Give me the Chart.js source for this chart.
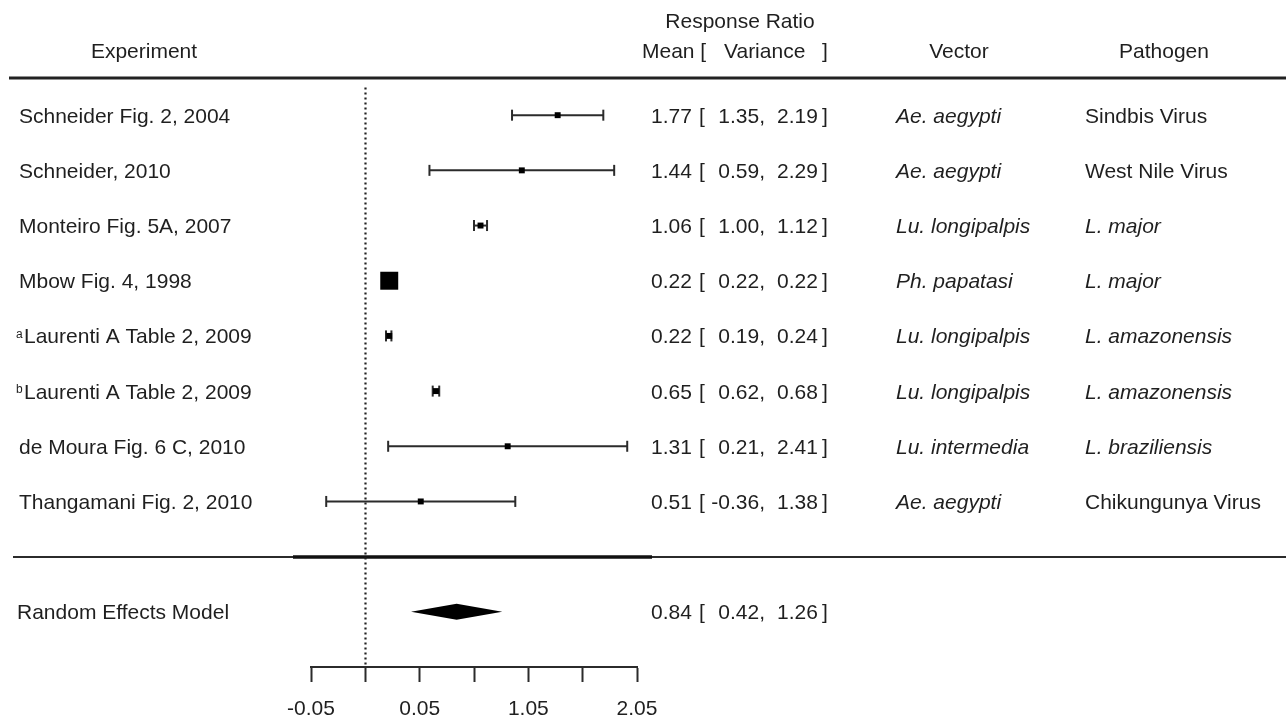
<!DOCTYPE html>
<html>
<head>
<meta charset="utf-8">
<script src="https://cdn.jsdelivr.net/npm/chart.js@4.4.0/dist/chart.umd.min.js"></script>
<style>
html,body{margin:0;padding:0;background:#fff;}
#wrap{width:1286px;height:716px;position:relative;}
</style>
</head>
<body>
<div id="wrap"><canvas id="c" width="1286" height="716"></canvas></div>
<script>
// ---------- data ----------
const studies = ['Schneider Fig. 2, 2004','Schneider, 2010','Monteiro Fig. 5A, 2007','Mbow Fig. 4, 1998','Laurenti A Table 2, 2009','Laurenti A Table 2, 2009','de Moura Fig. 6 C, 2010','Thangamani Fig. 2, 2010'];
const superscripts = ['','','','','a','b','',''];
const means = [1.77,1.44,1.06,0.22,0.22,0.65,1.31,0.51];
const lower = [1.35,0.59,1.00,0.22,0.19,0.62,0.21,-0.36];
const upper = [2.19,2.29,1.12,0.22,0.24,0.68,2.41,1.38];
const vectors = ['Ae. aegypti','Ae. aegypti','Lu. longipalpis','Ph. papatasi','Lu. longipalpis','Lu. longipalpis','Lu. intermedia','Ae. aegypti'];
const pathogens = ['Sindbis Virus','West Nile Virus','L. major','L. major','L. amazonensis','L. amazonensis','L. braziliensis','Chikungunya Virus'];
const summaryLabel = ['Random Effects Model'];
const summaryMean = [0.84];
const summaryLower = [0.42];
const summaryUpper = [1.26];
const axisTickValues = [-0.5,0.5,1.5,2.5];
const axisTickLabels = ['-0.05','0.05','1.05','2.05'];
const headers = ['Experiment','Response Ratio','Mean [','Variance',']','Vector','Pathogen'];

// ---------- styling ----------
const FONT = '"Liberation Sans", Arial, Helvetica, sans-serif';
const TXT = '#1f1f1f';
const LINE = '#2b2b2b';
const rowY = i => i + 1;          // row index -> y value
const summaryRow = 10;
const headerRuleRow = 0.33;
const dividerRow = 9;
const BIG_WEIGHT_ROW = 3;          // Mbow: heavy weight square

const fmt = v => v.toFixed(2);

const errorBarSets = means.map((m, i) => ({
  type: 'scatter',
  showLine: true,
  data: [{x: lower[i], y: rowY(i)}, {x: upper[i], y: rowY(i)}],
  borderColor: LINE,
  borderWidth: 2,
  pointStyle: 'line',
  pointRotation: 90,
  pointRadius: 5.5,
  pointBorderWidth: 2,
  pointBorderColor: LINE,
  pointBackgroundColor: LINE,
  order: 2
}));

const markerSet = {
  type: 'scatter',
  data: means.map((m, i) => ({x: m, y: rowY(i)})),
  pointStyle: 'rect',
  pointRadius: ctx => ctx.dataIndex === BIG_WEIGHT_ROW ? 12.7 : 4.2,
  pointBorderWidth: 0,
  pointBackgroundColor: '#000',
  order: 1
};

const decor = {
  id: 'forestDecor',
  beforeDatasetsDraw(chart) {
    const ctx = chart.ctx, xs = chart.scales.x, ys = chart.scales.y;
    ctx.save();
    // header rule
    const yh = Math.round(ys.getPixelForValue(headerRuleRow));
    ctx.strokeStyle = '#222';
    ctx.lineWidth = 3;
    ctx.beginPath(); ctx.moveTo(9, yh); ctx.lineTo(1286, yh); ctx.stroke();
    // divider
    const yd = Math.round(ys.getPixelForValue(dividerRow));
    ctx.strokeStyle = LINE;
    ctx.lineWidth = 2;
    ctx.beginPath(); ctx.moveTo(13, yd); ctx.lineTo(1286, yd); ctx.stroke();
    ctx.strokeStyle = '#111';
    ctx.lineWidth = 3.5;
    ctx.beginPath(); ctx.moveTo(293, yd); ctx.lineTo(652, yd); ctx.stroke();
    // dotted zero line
    const x0 = Math.round(xs.getPixelForValue(0)) + 0.5;
    ctx.strokeStyle = '#222';
    ctx.lineWidth = 2.2;
    ctx.setLineDash([2, 3]);
    ctx.beginPath(); ctx.moveTo(x0, ys.getPixelForValue(0.5)); ctx.lineTo(x0, ys.bottom - 2); ctx.stroke();
    ctx.setLineDash([]);
    ctx.restore();
  },
  afterDatasetsDraw(chart) {
    const ctx = chart.ctx, xs = chart.scales.x, ys = chart.scales.y;
    ctx.save();
    // summary diamond
    const yc = ys.getPixelForValue(summaryRow);
    ctx.fillStyle = '#000';
    ctx.beginPath();
    ctx.moveTo(xs.getPixelForValue(summaryLower[0]), yc);
    ctx.lineTo(xs.getPixelForValue(summaryMean[0]), yc - 8);
    ctx.lineTo(xs.getPixelForValue(summaryUpper[0]), yc);
    ctx.lineTo(xs.getPixelForValue(summaryMean[0]), yc + 8);
    ctx.closePath();
    ctx.fill();

    // texts
    ctx.fillStyle = TXT;
    ctx.textBaseline = 'alphabetic';
    const normal = '21px ' + FONT;
    const italic = 'italic 21px ' + FONT;
    const put = (t, x, y, align, font) => { ctx.font = font || normal; ctx.textAlign = align || 'left'; ctx.fillText(t, x, y); };

    // headers
    put(headers[0], 144, 57.5, 'center');
    put(headers[1], 740, 27.5, 'center');
    put(headers[2], 642, 57.5, 'left');
    put(headers[3], 724, 57.5, 'left');
    put(headers[4], 822, 57.5, 'left');
    put(headers[5], 959, 57.5, 'center');
    put(headers[6], 1164, 57.5, 'center');

    const valueCols = (m, lo, hi, yb) => {
      put(fmt(m), 651, yb, 'left');
      put('[', 699, yb, 'left');
      put(fmt(lo) + ',', 765, yb, 'right');
      put(fmt(hi), 777, yb, 'left');
      put(']', 822, yb, 'left');
    };

    studies.forEach((s, i) => {
      const yb = ys.getPixelForValue(rowY(i)) + 7.5;
      if (superscripts[i]) {
        put(superscripts[i], 16, yb - 5.5, 'left', '12px ' + FONT);
        put(s, 24, yb, 'left');
      } else {
        put(s, 19, yb, 'left');
      }
      valueCols(means[i], lower[i], upper[i], yb);
      put(vectors[i], 896, yb, 'left', italic);
      const pItalic = /^L\. /.test(pathogens[i]);
      put(pathogens[i], 1085, yb, 'left', pItalic ? italic : normal);
    });

    const ybs = ys.getPixelForValue(summaryRow) + 7.5;
    put(summaryLabel[0], 17, ybs, 'left');
    valueCols(summaryMean[0], summaryLower[0], summaryUpper[0], ybs);
    ctx.restore();
  }
};

new Chart(document.getElementById('c'), {
  type: 'scatter',
  data: { datasets: [markerSet, ...errorBarSets] },
  options: {
    responsive: false,
    animation: false,
    events: [],
    layout: { padding: { left: 311, right: 649, top: 60, bottom: 0 } },
    plugins: { legend: { display: false }, tooltip: { enabled: false } },
    scales: {
      x: {
        type: 'linear',
        position: 'bottom',
        min: -0.5,
        max: 2.5,
        afterFit: s => { s.height = 49; },
        border: { display: true, color: LINE, width: 2 },
        grid: { display: true, drawOnChartArea: false, drawTicks: true, tickLength: 15, tickWidth: 2, tickColor: LINE },
        ticks: {
          stepSize: 0.5,
          autoSkip: false,
          maxRotation: 0,
          padding: 15,
          color: TXT,
          font: { family: FONT, size: 21 },
          callback: v => {
            const k = axisTickValues.findIndex(t => Math.abs(t - v) < 1e-9);
            return k >= 0 ? axisTickLabels[k] : '';
          }
        }
      },
      y: {
        type: 'linear',
        display: false,
        reverse: true,
        min: 0,
        max: 11
      }
    }
  },
  plugins: [decor]
});
</script>
</body>
</html>
